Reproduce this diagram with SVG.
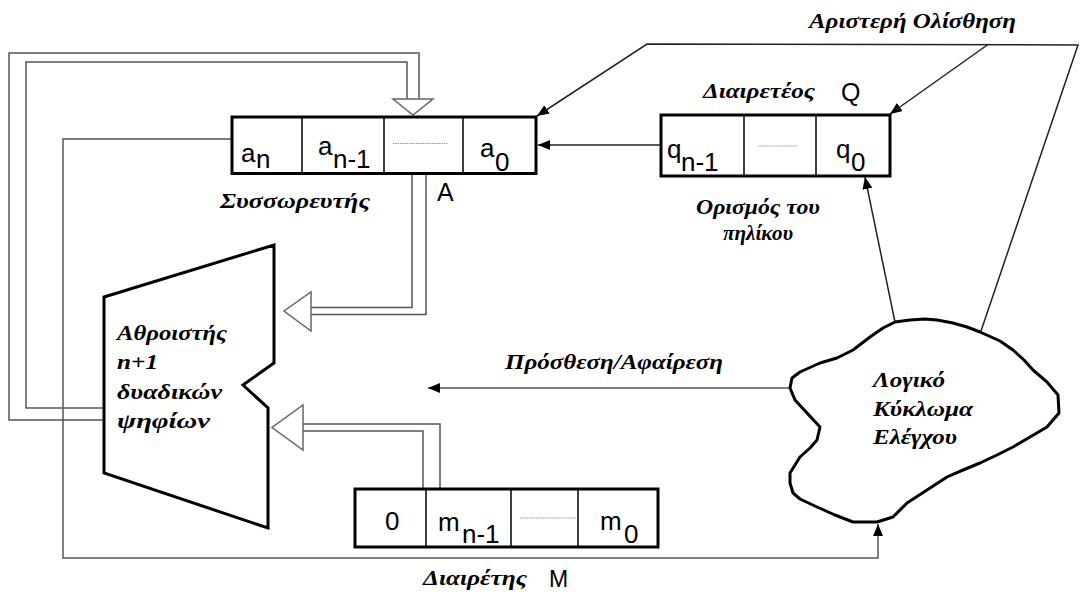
<svg xmlns="http://www.w3.org/2000/svg" width="1081" height="592" viewBox="0 0 1081 592">
<defs>
<style>
.lbl{font-family:"Liberation Serif","Times New Roman",serif;font-weight:bold;font-style:italic;font-size:20px;fill:#000}
.sans{font-family:"Liberation Sans",Arial,sans-serif;font-size:26px;fill:#000}
.big{font-family:"Liberation Sans",Arial,sans-serif;font-size:25px;fill:#000}
.reg{fill:#fff;stroke:#000;stroke-width:3}
.div{stroke:#000;stroke-width:1.5}
.dash{stroke:#999;stroke-width:1.2;stroke-dasharray:1.5 0.8}
.wire{fill:none;stroke:#555;stroke-width:1.5}
.dk{fill:none;stroke:#222;stroke-width:1.5}
.hollow{fill:#fff;stroke:#666;stroke-width:1.5}
</style>
<marker id="ah" markerWidth="12" markerHeight="10" refX="12" refY="5" orient="auto" markerUnits="userSpaceOnUse">
<path d="M0,0 L12,5 L0,10 Z" fill="#000"/>
</marker>
</defs>
<rect width="1081" height="592" fill="#fff"/>

<g id="connectors">
<polyline class="wire" points="104,408 26,408 26,62 407,62 407,99"/>
<polyline class="wire" points="104,420 9,420 9,53 419,53 419,99"/>
<polygon class="hollow" points="393,99 433,99 413,115"/>
<polyline class="wire" points="412,174 412,307.5 311,307.5"/>
<polyline class="wire" points="426,174 426,314.5 311,314.5"/>
<polygon class="hollow" points="311,292 311,331 284,311"/>
<polyline class="wire" points="423,489 423,431 303,431"/>
<polyline class="wire" points="440,489 440,424 303,424"/>
<polygon class="hollow" points="303,405 303,450 272,427.5"/>
<polyline class="wire" points="232,139 63,139 63,558 878,558 878,524" marker-end="url(#ah)"/>
<line class="dk" x1="661" y1="145" x2="538" y2="145" marker-end="url(#ah)"/>
<polyline class="dk" points="981,331 1078,45 647,44 537,116" marker-end="url(#ah)"/>
<line class="dk" x1="988" y1="44.5" x2="890" y2="114" marker-end="url(#ah)"/>
<line class="dk" x1="895" y1="322" x2="865" y2="177" marker-end="url(#ah)"/>
<line class="wire" x1="790" y1="388" x2="428" y2="388" stroke="#777" marker-end="url(#ah)"/>
</g>

<g id="accumulator">
<rect class="reg" x="232" y="117" width="304" height="56.5"/>
<line class="div" x1="302" y1="117" x2="302" y2="173"/>
<line class="div" x1="384" y1="117" x2="384" y2="173"/>
<line class="div" x1="463" y1="117" x2="463" y2="173"/>
<line class="dash" x1="393" y1="143.5" x2="448" y2="143.5"/>
<text class="sans" x="241" y="162">a</text><text class="sans" x="256" y="168">n</text>
<text class="sans" x="318" y="155">a</text><text class="sans" x="333" y="168">n-1</text>
<text class="sans" x="480" y="157">a</text><text class="sans" x="495" y="171">0</text>
<text class="lbl" x="220" y="208" textLength="150" lengthAdjust="spacingAndGlyphs">Συσσωρευτής</text>
<text class="big" x="437" y="201">A</text>
</g>

<g id="dividend">
<rect class="reg" x="661" y="115" width="229" height="61"/>
<line class="div" x1="744" y1="116" x2="744" y2="175"/>
<line class="div" x1="816" y1="116" x2="816" y2="175"/>
<line class="dash" x1="758" y1="146" x2="798" y2="146"/>
<text class="sans" x="667" y="158">q</text><text class="sans" x="681" y="171">n-1</text>
<text class="sans" x="836" y="158">q</text><text class="sans" x="851" y="171">0</text>
<text class="lbl" x="703" y="98" textLength="112" lengthAdjust="spacingAndGlyphs">Διαιρετέος</text>
<text class="big" x="841" y="101">Q</text>
<text class="lbl" x="696" y="214" textLength="124" lengthAdjust="spacingAndGlyphs">Ορισμός του</text>
<text class="lbl" x="723" y="240" textLength="70" lengthAdjust="spacingAndGlyphs">πηλίκου</text>
</g>

<g id="divisor">
<rect class="reg" x="355" y="489" width="303" height="58"/>
<line class="div" x1="426" y1="490" x2="426" y2="546"/>
<line class="div" x1="511" y1="490" x2="511" y2="546"/>
<line class="div" x1="578" y1="490" x2="578" y2="546"/>
<line class="dash" x1="520" y1="518" x2="576" y2="518"/>
<text class="sans" x="385" y="530">0</text>
<text class="sans" x="438" y="531">m</text><text class="sans" x="462" y="543">n-1</text>
<text class="sans" x="600" y="530">m</text><text class="sans" x="624" y="543">0</text>
<text class="lbl" x="423" y="585" textLength="104" lengthAdjust="spacingAndGlyphs">Διαιρέτης</text>
<text class="big" x="549" y="587" style="font-size:23px">M</text>
</g>

<g id="adder">
<polygon points="104,297 274,245 274,363 243,385 268,408 268,528 104,473" fill="#fff" stroke="#000" stroke-width="3" stroke-linejoin="miter"/>
<text class="lbl" x="117" y="340" textLength="110" lengthAdjust="spacingAndGlyphs">Αθροιστής</text>
<text class="lbl" x="117" y="369" textLength="41" lengthAdjust="spacingAndGlyphs">n+1</text>
<text class="lbl" x="117" y="399" textLength="105" lengthAdjust="spacingAndGlyphs">δυαδικών</text>
<text class="lbl" x="117" y="428" textLength="93" lengthAdjust="spacingAndGlyphs">ψηφίων</text>
</g>

<g id="control">
<path d="M895,322 L910,320 L925,319 L937,320 L953,323 L967,327 L980,332 L1000,341 L1013,350 L1024,360 L1033,370 L1047,382 L1058,395 L1059,413 L1047,427 L1030,437 L1013,447 L997,455 L980,463 L963,470 L947,477 L927,490 L907,503 L893,517 L877,522 L853,522 L835,515 L817,507 L800,499 L793,493 L790,483 L790,473 L800,457 L810,448 L817,440 L820,427 L807,413 L795,400 L790,388 L792,378 L800,372 L820,363 L837,358 L853,350 L870,337 L883,328 Z" fill="#fff" stroke="#000" stroke-width="3" stroke-linejoin="round"/>
<text class="lbl" x="873" y="387" textLength="72" lengthAdjust="spacingAndGlyphs">Λογικό</text>
<text class="lbl" x="873" y="416" textLength="100" lengthAdjust="spacingAndGlyphs">Κύκλωμα</text>
<text class="lbl" x="873" y="444" textLength="84" lengthAdjust="spacingAndGlyphs">Ελέγχου</text>
</g>

<g id="labels">
<text class="lbl" x="809" y="28" textLength="207" lengthAdjust="spacingAndGlyphs">Αριστερή Ολίσθηση</text>
<text class="lbl" x="505" y="369" textLength="218" lengthAdjust="spacingAndGlyphs">Πρόσθεση/Αφαίρεση</text>
</g>
</svg>
